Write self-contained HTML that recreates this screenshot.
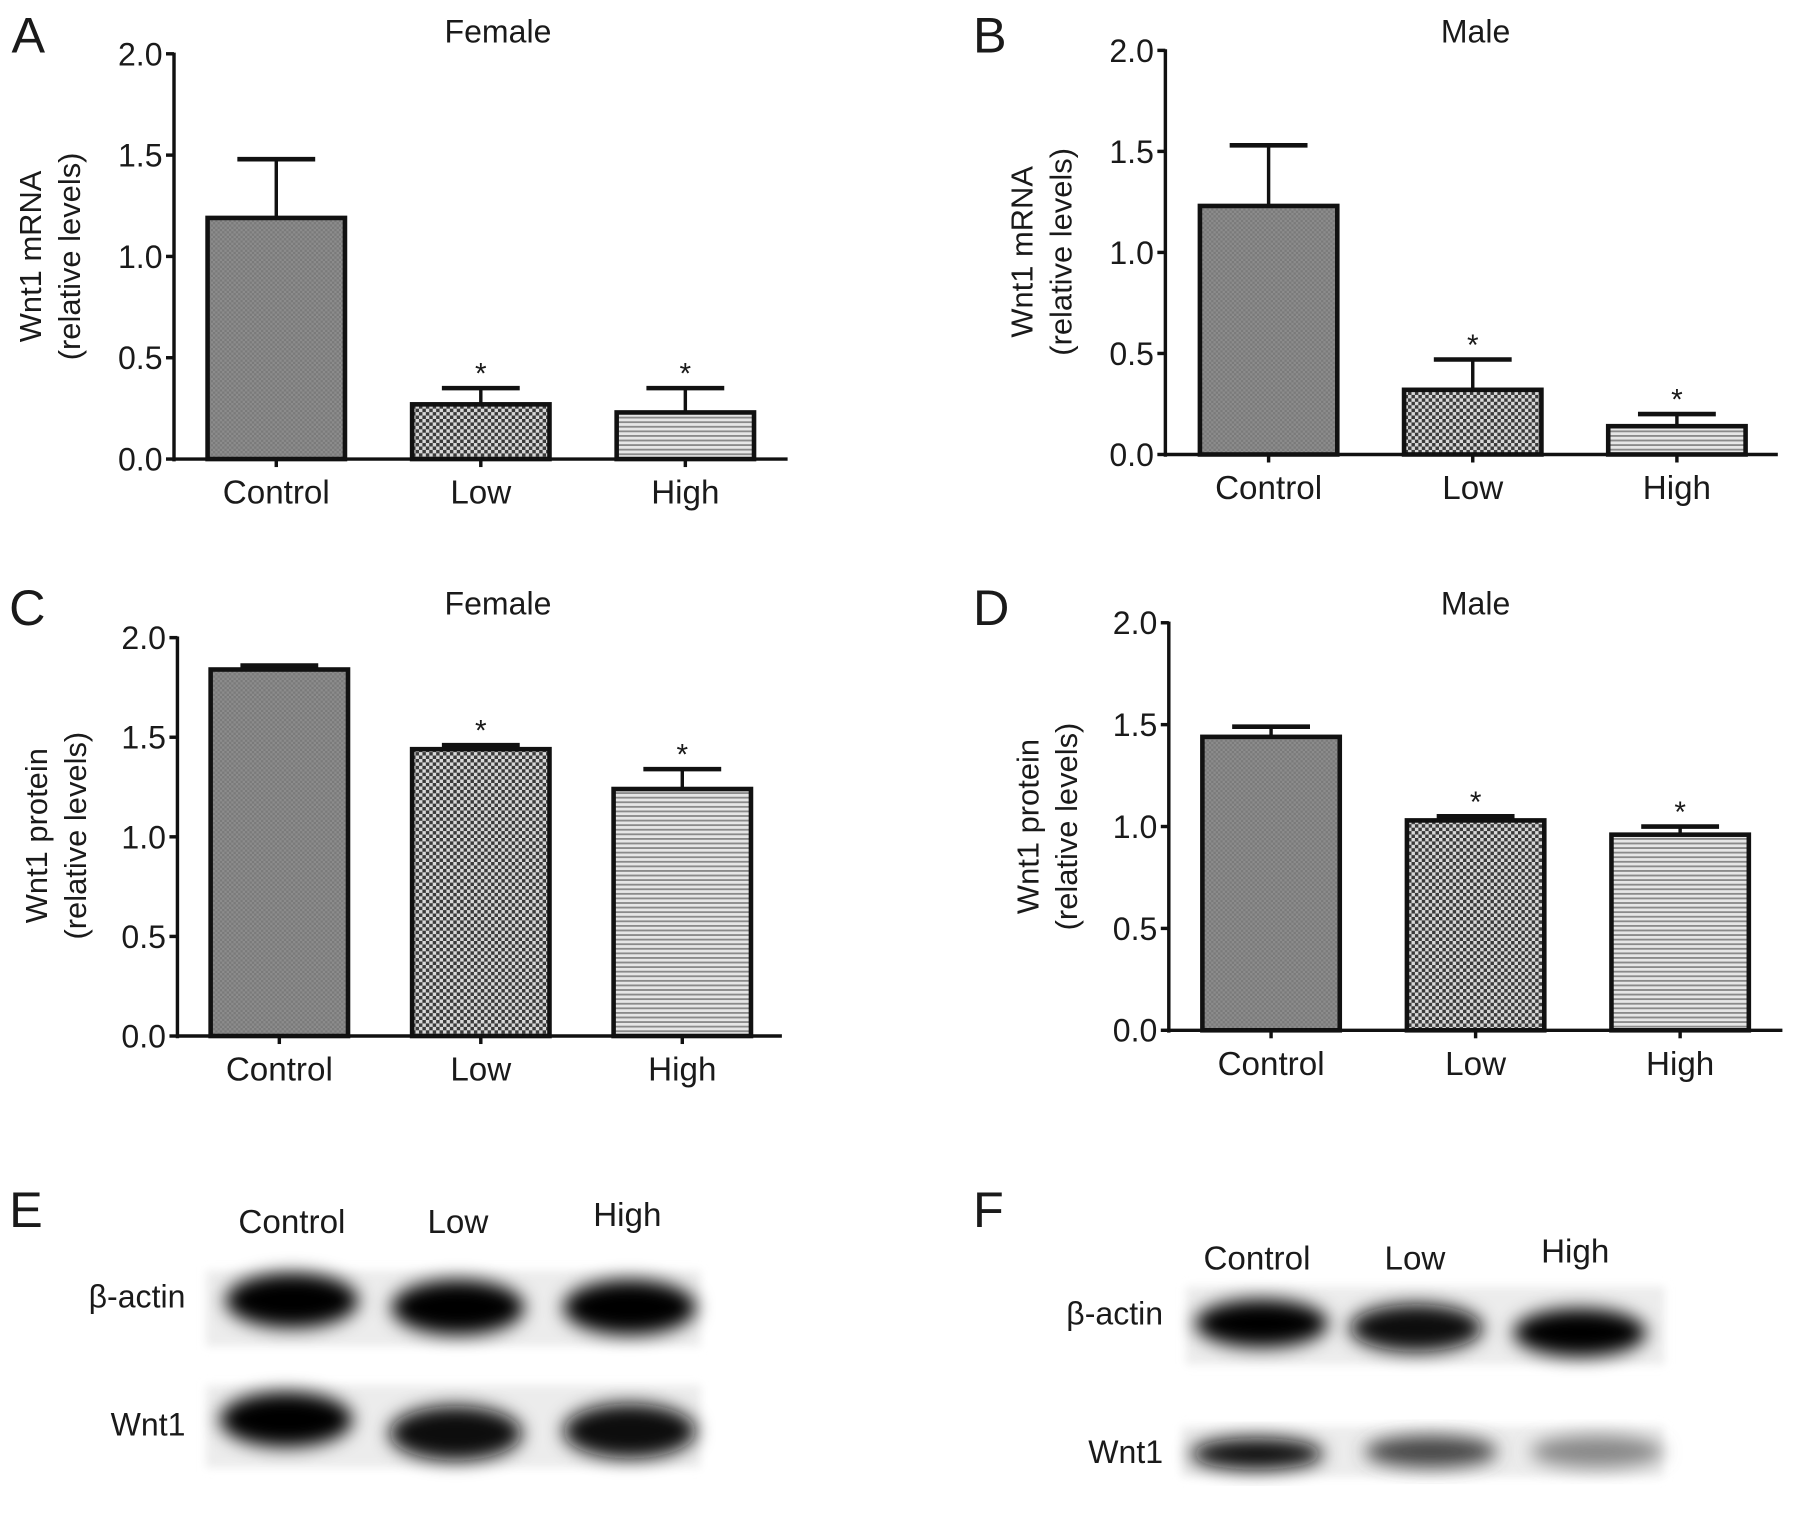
<!DOCTYPE html>
<html><head><meta charset="utf-8"><style>
html,body{margin:0;padding:0;background:#fff;overflow:hidden}
#wrap{width:1568px;height:1344px;transform:scale(1.14477);transform-origin:0 0}
svg text{font-family:"Liberation Sans",Arial,sans-serif;fill:#1a1a1a}
</style></head><body>
<div id="wrap">
<svg id="fig" width="1568" height="1344" viewBox="0 0 1568 1344" xmlns="http://www.w3.org/2000/svg">
<defs>
<pattern id="pCtrl" width="4" height="4" patternUnits="userSpaceOnUse"><rect width="4" height="4" fill="#8c8c8c"/><rect width="2" height="2" fill="#7a7a7a"/><rect x="2" y="2" width="2" height="2" fill="#7a7a7a"/></pattern>
<pattern id="pLow" width="6" height="6" patternUnits="userSpaceOnUse"><rect width="6" height="6" fill="#d8d8d8"/><rect width="3" height="3" fill="#3a3a3a"/><rect x="3" y="3" width="3" height="3" fill="#3a3a3a"/></pattern>
<pattern id="pHigh" width="4" height="4" patternUnits="userSpaceOnUse"><rect width="4" height="4" fill="#e6e6e6"/><rect width="4" height="1.6" fill="#8a8a8a"/></pattern>
<filter id="blur" x="-50%" y="-50%" width="200%" height="200%"><feGaussianBlur stdDeviation="8"/></filter>
<filter id="blur2" x="-20%" y="-50%" width="140%" height="200%"><feGaussianBlur stdDeviation="4"/></filter>
</defs>
<g id="charts"></g>
<g id="blots"></g>
</svg>
</div>
<script>
const categories = ["Control","Low","High"];
const valuesA = [1.19, 0.27, 0.23];
const errorsA = [1.48, 0.35, 0.35];
const valuesB = [1.23, 0.32, 0.14];
const errorsB = [1.53, 0.47, 0.20];
const valuesC = [1.84, 1.44, 1.24];
const errorsC = [1.86, 1.46, 1.34];
const valuesD = [1.44, 1.03, 0.96];
const errorsD = [1.49, 1.05, 1.00];
const starsA = [false, true, true];
const starsB = [false, true, true];
const starsC = [false, true, true];
const starsD = [false, true, true];
const yTicks = [0, 0.5, 1.0, 1.5, 2.0];
const yTickLabels = ["0.0","0.5","1.0","1.5","2.0"];

const NS = "http://www.w3.org/2000/svg";
function mk(tag, attrs, parent, text){
  const e = document.createElementNS(NS, tag);
  for (const k in attrs) e.setAttribute(k, attrs[k]);
  if (text !== undefined) e.textContent = text;
  parent.appendChild(e);
  return e;
}
const fills = ["url(#pCtrl)","url(#pLow)","url(#pHigh)"];

function panel(cfg){
  const g = mk("g", {}, document.getElementById("charts"));
  
  
  const y = v => cfg.y0 - (v / 2.0) * (cfg.y0 - cfg.y2);
  const slot = (cfg.xEnd - cfg.ax) / 3;
  const xc = i => cfg.ax + slot * (i + 0.5) + cfg.shift;
  const bw = cfg.bw;
  const L = mk("text", {x: cfg.lx, y: cfg.ly, "font-size": 44}, g, cfg.letter);
  
  
  const T = mk("text", {x: cfg.tx, y: cfg.ty, "font-size": 28, "text-anchor": "middle"}, g, cfg.title);
  
  
  const yl = mk("text", {transform: `translate(${cfg.ylx},${cfg.ylc}) rotate(-90)`, "font-size": 27, "text-anchor": "middle"}, g);
  
  
  mk("tspan", {x: 0, y: 0}, yl, cfg.ylabel);
  mk("tspan", {x: 0, y: 34}, yl, "(relative levels)");
  const ya = mk("line", {x1: cfg.ax, y1: y(2.0) - 1, x2: cfg.ax, y2: y(0) + 2, stroke: "#111", "stroke-width": 3}, g);
  
  
  yTicks.forEach((t, i) => {
    mk("line", {x1: cfg.ax - 7, y1: y(t), x2: cfg.ax, y2: y(t), stroke: "#111", "stroke-width": 3}, g);
    const tl = mk("text", {x: cfg.ax - 10, y: y(t) + 10, "font-size": 28, "text-anchor": "end"}, g, yTickLabels[i]);
    
    
  });
  cfg.values.forEach((v, i) => {
    const x = xc(i);
    const er = mk("line", {x1: x, y1: y(cfg.errors[i]), x2: x, y2: y(v), stroke: "#111", "stroke-width": 3}, g);
    
    
    mk("line", {x1: x - 34, y1: y(cfg.errors[i]), x2: x + 34, y2: y(cfg.errors[i]), stroke: "#111", "stroke-width": 4}, g);
    const b = mk("rect", {x: x - bw/2, y: y(v), width: bw, height: y(0) - y(v), fill: fills[i], stroke: "#111", "stroke-width": 4}, g);
    
    
    if (cfg.stars[i]) {
      const s = mk("text", {x: x, y: y(cfg.errors[i]) - 4, "font-size": 26, "text-anchor": "middle"}, g, "*");
      
      
    }
    mk("line", {x1: x, y1: y(0), x2: x, y2: y(0) + 7, stroke: "#111", "stroke-width": 3}, g);
    const cl = mk("text", {x: x, y: y(0) + 39, "font-size": 29, "text-anchor": "middle"}, g, categories[i]);
    
    
  });
  const xa = mk("line", {x1: cfg.ax, y1: y(0), x2: cfg.xEnd, y2: y(0), stroke: "#111", "stroke-width": 3}, g);
  
  
}

panel({letter:"A", lx:10, ly:46, title:"Female", tx:435, ty:37, ax:152, xEnd:688, y0:401, y2:47, bw:120, shift:0,
  ylabel:"Wnt1 mRNA", ylx:36, ylc:224, values:valuesA, errors:errorsA, stars:starsA});
panel({letter:"B", lx:850, ly:46, title:"Male", tx:1289, ty:37, ax:1018, xEnd:1553, y0:397, y2:44, bw:120, shift:1,
  ylabel:"Wnt1 mRNA", ylx:902, ylc:220, values:valuesB, errors:errorsB, stars:starsB});
panel({letter:"C", lx:8, ly:546, title:"Female", tx:435, ty:537, ax:155, xEnd:683, y0:905, y2:557, bw:120, shift:1,
  ylabel:"Wnt1 protein", ylx:41, ylc:730, values:valuesC, errors:errorsC, stars:starsC});
panel({letter:"D", lx:850, ly:546, title:"Male", tx:1289, ty:537, ax:1021, xEnd:1557, y0:900, y2:544, bw:120, shift:0,
  ylabel:"Wnt1 protein", ylx:907, ylc:722, values:valuesD, errors:errorsD, stars:starsD});

const blotLanes = ["Control","Low","High"];
const bandE_actin = [1.0, 1.0, 1.0];
const bandE_wnt = [1.0, 0.97, 0.93];
const bandF_actin = [1.0, 0.97, 1.0];
const bandF_wnt = [0.97, 0.7, 0.4];

function blot(cfg){
  const g = mk("g", {}, document.getElementById("blots"));
  
  
  const L = mk("text", {x: cfg.lx, y: cfg.ly, "font-size": 44}, g, cfg.letter);
  
  
  blotLanes.forEach((n, i) => {
    const t = mk("text", {x: cfg.laneLabelX[i], y: cfg.laneLabelY[i], "font-size": 29, "text-anchor": "middle"}, g, n);
    
    
  });
  cfg.rows.forEach(r => {
    const rl = mk("text", {x: cfg.rowLabelX, y: r.ly, "font-size": 28, "text-anchor": "end"}, g, r.name);
    
    
    const bg = mk("rect", {x: r.x, y: r.y, width: r.w, height: r.h, fill: "#ececec", filter: "url(#blur2)"}, g);
    
    
    r.vals.forEach((v, i) => {
      const gray = Math.round(225 - 225 * v);
      const b = mk("ellipse", {cx: r.cx[i], cy: r.cy[i], rx: 58, ry: r.ry, fill: `rgb(${gray},${gray},${gray})`, filter: "url(#blur)"}, g);
      
      
    });
  });
}
blot({letter:"E", lx:8, ly:1072, laneLabelX:[255,400,548], laneLabelY:[1077,1077,1071], rowLabelX:162,
  rows:[{name:"β-actin", ly:1142, x:180, y:1110, w:432, h:66, vals:bandE_actin, cx:[255,400,550], cy:[1136,1142,1142], ry:24},
        {name:"Wnt1", ly:1254, x:180, y:1210, w:432, h:72, vals:bandE_wnt, cx:[250,398,550], cy:[1240,1252,1250], ry:24}]});
blot({letter:"F", lx:850, ly:1072, laneLabelX:[1098,1236,1376], laneLabelY:[1109,1109,1103], rowLabelX:1016,
  rows:[{name:"β-actin", ly:1157, x:1036, y:1124, w:418, h:68, vals:bandF_actin, cx:[1102,1237,1380], cy:[1156,1160,1164], ry:21},
        {name:"Wnt1", ly:1278, x:1032, y:1246, w:421, h:44, vals:bandF_wnt, cx:[1098,1250,1395], cy:[1270,1268,1268], ry:14}]});
</script>
</body></html>
